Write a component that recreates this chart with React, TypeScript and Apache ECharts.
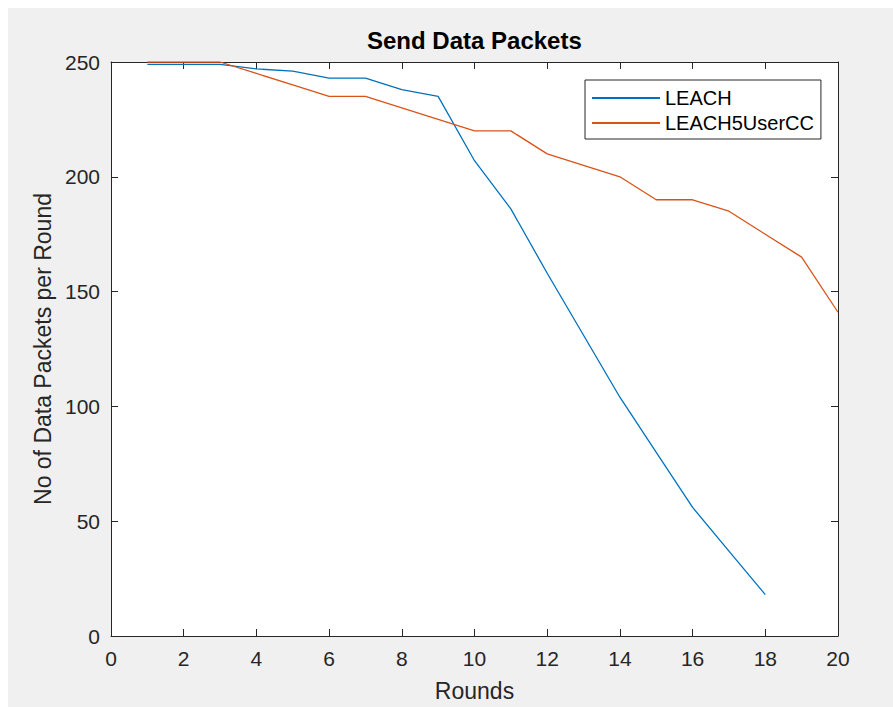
import React, { useEffect, useRef } from "react";
import * as echarts from "echarts";

const titleText = "Send Data Packets";
const xAxisName = "Rounds";
const yAxisName = "No of Data Packets per Round";
const seriesNames = ["LEACH", "LEACH5UserCC"];

const roundsLeach = [1, 2, 3, 4, 5, 6, 7, 8, 9, 10, 11, 12, 13, 14, 15, 16, 17, 18];
const packetsLeach = [249, 249, 249, 247, 246, 243, 243, 238, 235, 207, 186, 158, 131, 104, 80, 56, 37, 18];

const roundsCC = [1, 2, 3, 4, 5, 6, 7, 8, 9, 10, 11, 12, 13, 14, 15, 16, 17, 18, 19, 20];
const packetsCC = [250, 250, 250, 245, 240, 235, 235, 230, 225, 220, 220, 210, 205, 200, 190, 190, 185, 175, 165, 141];

const FONT = "'Liberation Sans', Arial, Helvetica, sans-serif";
const AXIS_COLOR = "#262626";

export default function App() {
  const ref = useRef<HTMLDivElement>(null);

  useEffect(() => {
    if (!ref.current) return;
    const chart = echarts.init(ref.current, null, { renderer: "svg" });

    const hiddenAxisCommon = {
      axisLabel: { show: false },
      splitLine: { show: false },
      axisLine: { show: true, onZero: false, lineStyle: { color: AXIS_COLOR, width: 1 } },
      axisTick: { show: true, inside: true, length: 7, lineStyle: { color: AXIS_COLOR } },
    };

    chart.setOption({
      animation: false,
      backgroundColor: "#f0f0f0",
      textStyle: { fontFamily: FONT },
      title: {
        text: titleText,
        left: 359,
        top: 20,
        padding: 0,
        textStyle: { fontFamily: FONT, fontSize: 24, fontWeight: "bold", color: "#000" },
      },
      legend: {
        orient: "vertical",
        left: 577,
        top: 72,
        padding: [8, 7, 6, 7],
        itemGap: 5,
        itemWidth: 68,
        itemHeight: 2,
        icon: "rect",
        backgroundColor: "#ffffff",
        borderColor: "#262626",
        borderWidth: 1,
        borderRadius: 0,
        textStyle: { fontFamily: FONT, fontSize: 20, color: "#000", lineHeight: 20 },
        data: seriesNames,
      },
      grid: {
        left: 103,
        top: 54,
        right: 55,
        bottom: 70,
        show: true,
        backgroundColor: "#ffffff",
        borderWidth: 0,
      },
      xAxis: [
        {
          type: "value",
          min: 0,
          max: 20,
          interval: 2,
          position: "bottom",
          name: xAxisName,
          nameLocation: "middle",
          nameGap: 43,
          nameTextStyle: { fontFamily: FONT, fontSize: 23, color: AXIS_COLOR },
          axisLine: { show: true, onZero: false, lineStyle: { color: AXIS_COLOR, width: 1 } },
          axisTick: { show: true, inside: true, length: 7, lineStyle: { color: AXIS_COLOR } },
          axisLabel: { fontFamily: FONT, fontSize: 21, color: AXIS_COLOR, margin: 12 },
          splitLine: { show: false },
        },
        {
          type: "value",
          min: 0,
          max: 20,
          interval: 2,
          position: "top",
          ...hiddenAxisCommon,
        },
      ],
      yAxis: [
        {
          type: "value",
          min: 0,
          max: 250,
          interval: 50,
          position: "left",
          name: yAxisName,
          nameLocation: "middle",
          nameGap: 56,
          nameTextStyle: { fontFamily: FONT, fontSize: 23, color: AXIS_COLOR },
          axisLine: { show: true, onZero: false, lineStyle: { color: AXIS_COLOR, width: 1 } },
          axisTick: { show: true, inside: true, length: 7, lineStyle: { color: AXIS_COLOR } },
          axisLabel: { fontFamily: FONT, fontSize: 21, color: AXIS_COLOR, margin: 11 },
          splitLine: { show: false },
        },
        {
          type: "value",
          min: 0,
          max: 250,
          interval: 50,
          position: "right",
          ...hiddenAxisCommon,
        },
      ],
      series: [
        {
          name: seriesNames[0],
          type: "line",
          xAxisIndex: 0,
          yAxisIndex: 0,
          symbol: "none",
          color: "#0072BD",
          lineStyle: { width: 1.3, color: "#0072BD" },
          data: roundsLeach.map((r, i) => [r, packetsLeach[i]]),
        },
        {
          name: seriesNames[1],
          type: "line",
          xAxisIndex: 0,
          yAxisIndex: 0,
          symbol: "none",
          color: "#D95319",
          lineStyle: { width: 1.3, color: "#D95319" },
          data: roundsCC.map((r, i) => [r, packetsCC[i]]),
        },
      ],
    });

    return () => chart.dispose();
  }, []);

  return (
    <div
      ref={ref}
      style={{ position: "fixed", left: 8, top: 8, width: 885, height: 699 }}
    />
  );
}
